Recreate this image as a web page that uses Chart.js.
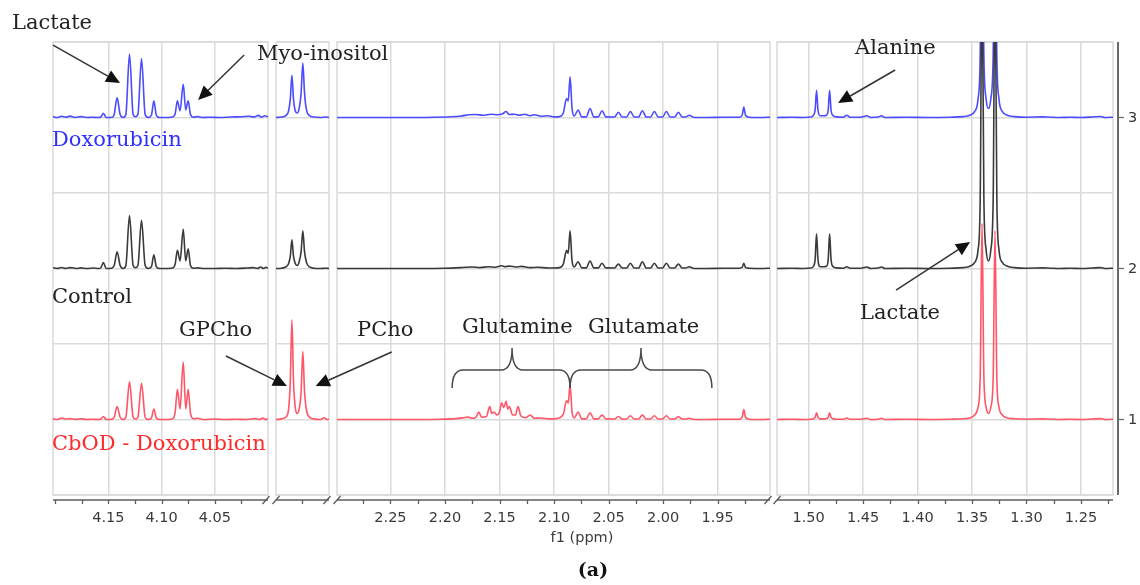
<!DOCTYPE html>
<html>
<head>
<meta charset="utf-8">
<script src="https://cdn.jsdelivr.net/npm/chart.js@4/dist/chart.umd.min.js"></script>
<style>
html, body { margin: 0; padding: 0; background: #fff; }
#fig { position: relative; width: 1140px; height: 585px; overflow: hidden; }
#fig canvas { position: absolute; top: 0; }
.lbl { position: absolute; font-family: "DejaVu Serif", serif; font-size: 21px; line-height: 21px; white-space: nowrap; color: #222; }
</style>
</head>
<body>
<div id="fig">
  <canvas id="p0"></canvas>
  <canvas id="p1"></canvas>
  <canvas id="p2"></canvas>
  <canvas id="p3"></canvas>
  <canvas id="ann" width="1140" height="585"></canvas>
</div>
<script>
// ppm window of each axis segment, left edge first (ppm decreases to the right)
const windows = [[4.202, 4.000], [3.249, 3.200], [2.299, 1.902], [1.529, 1.2206]];

// tick marks (every 0.025 ppm) and the labelled ones
const tickPpm = [
  [4.200, 4.175, 4.150, 4.125, 4.100, 4.075, 4.050, 4.025],
  [3.225],
  [2.275, 2.250, 2.225, 2.200, 2.175, 2.150, 2.125, 2.100, 2.075, 2.050, 2.025, 2.000, 1.975, 1.950, 1.925],
  [1.500, 1.475, 1.450, 1.425, 1.400, 1.375, 1.350, 1.325, 1.300, 1.275, 1.250, 1.225]
];
const tickLabels = [
  ['4.15', '4.10', '4.05'],
  [],
  ['2.25', '2.20', '2.15', '2.10', '2.05', '2.00', '1.95'],
  ['1.50', '1.45', '1.40', '1.35', '1.30', '1.25']
];

// stacking offsets of the three spectra and the y grid
const levelRed = 1, levelBlack = 2, levelBlue = 3;
const yLevels = [1, 2, 3];
const yGrid = [0.5, 1, 1.5, 2, 2.5, 3, 3.5];

// spectra as [ppm, intensity above own baseline]
// --- 4.20 - 4.00 ppm (lactate CH, myo-inositol)
const blueP1 = [[4.202,0.006],[4.198,0],[4.194,0.008],[4.190,0.002],[4.186,0.009],[4.181,0],[4.176,0.006],[4.170,0],[4.165,0.002],[4.160,0],[4.157,0.003],[4.1546,0.028],[4.152,0],[4.146,0.002],[4.1445,0.02],[4.1417,0.13],[4.1389,0.02],[4.136,0],[4.1335,0.02],[4.1301,0.42],[4.1267,0.02],[4.1245,0.005],[4.1222,0.02],[4.1188,0.39],[4.1154,0.02],[4.1125,0],[4.1095,0.015],[4.1072,0.11],[4.1049,0.015],[4.102,0],[4.094,0],[4.089,0.005],[4.0872,0.025],[4.0851,0.11],[4.0826,0.045],[4.0796,0.22],[4.0773,0.05],[4.0750,0.11],[4.0728,0.02],[4.070,0.002],[4.066,0.006],[4.062,0],[4.055,0.002],[4.045,0],[4.035,0.003],[4.025,0.005],[4.018,0.008],[4.013,0.004],[4.009,0.014],[4.006,0.002],[4.003,0.012],[4.000,0.004]];
const blackP1 = [[4.202,0.005],[4.198,0],[4.194,0.007],[4.190,0],[4.186,0.006],[4.180,0],[4.176,0.004],[4.170,0],[4.164,0.003],[4.159,0],[4.157,0.005],[4.1546,0.04],[4.152,0],[4.147,0.002],[4.1445,0.02],[4.1417,0.11],[4.1389,0.02],[4.136,0],[4.1335,0.02],[4.1301,0.35],[4.1267,0.02],[4.1245,0.005],[4.1222,0.02],[4.1188,0.32],[4.1154,0.02],[4.1125,0],[4.1095,0.012],[4.1072,0.09],[4.1049,0.012],[4.102,0],[4.094,0],[4.089,0.005],[4.0872,0.03],[4.0851,0.12],[4.0826,0.05],[4.0796,0.26],[4.0773,0.05],[4.0750,0.13],[4.0728,0.02],[4.070,0.002],[4.066,0.004],[4.060,0],[4.050,0],[4.040,0.002],[4.030,0],[4.020,0.003],[4.014,0.006],[4.010,0],[4.007,0.01],[4.004,0],[4.002,0.008],[4.000,0.002]];
const redP1 = [[4.202,0.006],[4.198,0],[4.194,0.01],[4.190,0.003],[4.186,0.006],[4.180,0],[4.176,0.005],[4.170,0],[4.165,0.002],[4.159,0],[4.157,0.003],[4.1546,0.02],[4.152,0],[4.147,0.002],[4.1445,0.015],[4.1417,0.085],[4.1389,0.015],[4.136,0],[4.1335,0.015],[4.1301,0.25],[4.1267,0.015],[4.1245,0.003],[4.1222,0.015],[4.1188,0.24],[4.1154,0.015],[4.1125,0],[4.1095,0.01],[4.1072,0.07],[4.1049,0.01],[4.102,0],[4.094,0],[4.089,0.008],[4.0872,0.05],[4.0851,0.20],[4.0826,0.07],[4.0796,0.38],[4.0773,0.07],[4.0750,0.20],[4.0728,0.04],[4.070,0.005],[4.066,0.008],[4.060,0],[4.050,0.003],[4.040,0],[4.030,0.002],[4.020,0],[4.012,0.006],[4.008,0],[4.005,0.01],[4.002,0],[4.000,0.005]];

// --- choline segment (GPCho, PCho)
const blueP2 = [[3.249,0],[3.244,0.003],[3.240,0.012],[3.2375,0.04],[3.2358,0.12],[3.2343,0.28],[3.2328,0.12],[3.2310,0.04],[3.2293,0.03],[3.2276,0.06],[3.2258,0.16],[3.2242,0.36],[3.2226,0.16],[3.2208,0.05],[3.218,0.012],[3.214,0.003],[3.208,0],[3.203,0.003],[3.200,0]];
const blackP2 = [[3.249,0],[3.244,0.002],[3.240,0.01],[3.2375,0.03],[3.2358,0.08],[3.2343,0.19],[3.2328,0.08],[3.2310,0.03],[3.2293,0.02],[3.2276,0.045],[3.2258,0.11],[3.2242,0.25],[3.2226,0.11],[3.2208,0.04],[3.218,0.01],[3.214,0.002],[3.208,0],[3.203,0.002],[3.200,0]];
const redP2 = [[3.249,0],[3.244,0.004],[3.240,0.015],[3.2375,0.06],[3.2358,0.25],[3.2343,0.66],[3.2328,0.25],[3.2310,0.07],[3.2293,0.04],[3.2276,0.07],[3.2258,0.18],[3.2242,0.45],[3.2226,0.18],[3.2208,0.06],[3.218,0.015],[3.214,0.004],[3.208,0],[3.2045,0.012],[3.202,0],[3.200,0.002]];

// --- 2.30 - 1.90 ppm (glutamine / glutamate)
const blueP3 = [[2.299,0],[2.250,0],[2.210,0.002],[2.195,0.005],[2.185,0.01],[2.178,0.018],[2.172,0.02],[2.165,0.015],[2.158,0.022],[2.152,0.018],[2.147,0.025],[2.144,0.04],[2.141,0.02],[2.136,0.022],[2.132,0.015],[2.127,0.022],[2.122,0.012],[2.118,0.018],[2.112,0.008],[2.106,0.012],[2.100,0.004],[2.095,0.006],[2.0915,0.03],[2.0885,0.125],[2.087,0.11],[2.0853,0.27],[2.0835,0.06],[2.0815,0.01],[2.078,0.05],[2.0745,0.004],[2.0705,0.004],[2.067,0.06],[2.0635,0.004],[2.0595,0.004],[2.056,0.045],[2.0525,0.004],[2.0445,0.003],[2.041,0.035],[2.0375,0.003],[2.0335,0.003],[2.030,0.04],[2.0265,0.003],[2.0225,0.003],[2.019,0.045],[2.0155,0.003],[2.0115,0.003],[2.008,0.04],[2.0045,0.003],[2.0005,0.003],[1.997,0.04],[1.9935,0.003],[1.9895,0.003],[1.986,0.035],[1.9825,0.003],[1.9795,0.003],[1.976,0.015],[1.9725,0.002],[1.960,0],[1.945,0.002],[1.930,0.002],[1.9275,0.015],[1.926,0.07],[1.9245,0.015],[1.921,0.002],[1.910,0],[1.902,0.002]];
const blackP3 = [[2.299,0],[2.250,0],[2.200,0.002],[2.185,0.006],[2.175,0.01],[2.168,0.006],[2.160,0.012],[2.154,0.008],[2.148,0.018],[2.145,0.012],[2.141,0.016],[2.135,0.01],[2.130,0.014],[2.122,0.006],[2.115,0.008],[2.105,0.003],[2.095,0.006],[2.0915,0.03],[2.0885,0.12],[2.087,0.10],[2.0853,0.25],[2.0835,0.05],[2.0815,0.01],[2.078,0.045],[2.0745,0.004],[2.0705,0.004],[2.067,0.05],[2.0635,0.004],[2.0595,0.004],[2.056,0.035],[2.0525,0.004],[2.0445,0.003],[2.041,0.03],[2.0375,0.003],[2.0335,0.003],[2.030,0.035],[2.0265,0.003],[2.0225,0.003],[2.019,0.045],[2.0155,0.003],[2.0115,0.003],[2.008,0.035],[2.0045,0.003],[2.0005,0.003],[1.997,0.035],[1.9935,0.003],[1.9895,0.003],[1.986,0.03],[1.9825,0.003],[1.9795,0.003],[1.976,0.012],[1.9725,0.002],[1.960,0],[1.945,0.002],[1.930,0.002],[1.9275,0.008],[1.926,0.035],[1.9245,0.008],[1.921,0.002],[1.910,0],[1.902,0.002]];
const redP3 = [[2.299,0],[2.250,0],[2.205,0.002],[2.190,0.006],[2.183,0.012],[2.179,0.016],[2.174,0.008],[2.1715,0.015],[2.169,0.05],[2.1665,0.015],[2.162,0.02],[2.159,0.085],[2.157,0.04],[2.155,0.05],[2.1525,0.03],[2.150,0.05],[2.148,0.11],[2.146,0.08],[2.144,0.12],[2.1425,0.07],[2.141,0.085],[2.138,0.03],[2.1355,0.03],[2.133,0.085],[2.1305,0.025],[2.126,0.012],[2.122,0.03],[2.118,0.008],[2.112,0.01],[2.105,0.004],[2.098,0.006],[2.0915,0.035],[2.0885,0.125],[2.087,0.11],[2.0853,0.23],[2.0835,0.05],[2.0815,0.01],[2.078,0.05],[2.0745,0.004],[2.0705,0.004],[2.067,0.045],[2.0635,0.004],[2.0595,0.004],[2.056,0.03],[2.0525,0.004],[2.0445,0.003],[2.041,0.02],[2.0375,0.003],[2.0335,0.003],[2.030,0.025],[2.0265,0.003],[2.0225,0.003],[2.019,0.03],[2.0155,0.003],[2.0115,0.003],[2.008,0.025],[2.0045,0.003],[2.0005,0.003],[1.997,0.025],[1.9935,0.003],[1.9895,0.003],[1.986,0.018],[1.9825,0.003],[1.9795,0.003],[1.976,0.008],[1.9725,0.002],[1.960,0],[1.945,0.002],[1.930,0.002],[1.9275,0.015],[1.926,0.066],[1.9245,0.015],[1.921,0.002],[1.910,0],[1.902,0.002]];

// --- 1.53 - 1.22 ppm (alanine, lactate CH3)
const blueP4 = [[1.529,0],[1.515,0.002],[1.505,0],[1.498,0.003],[1.4955,0.015],[1.4940,0.05],[1.4927,0.18],[1.4914,0.05],[1.4895,0.012],[1.4867,0.012],[1.4835,0.015],[1.4820,0.05],[1.4807,0.18],[1.4794,0.05],[1.4775,0.012],[1.474,0.004],[1.468,0.002],[1.465,0.015],[1.462,0.002],[1.452,0.002],[1.4465,0.012],[1.443,0],[1.436,0.003],[1.433,0.012],[1.430,0],[1.410,0.002],[1.390,0],[1.370,0.002],[1.358,0.006],[1.352,0.015],[1.3475,0.04],[1.3445,0.12],[1.3425,0.4],[1.3408,1.6],[1.3391,0.4],[1.3370,0.12],[1.3349,0.06],[1.3328,0.12],[1.3306,0.4],[1.3289,1.6],[1.3272,0.4],[1.3252,0.12],[1.3222,0.04],[1.3175,0.015],[1.311,0.006],[1.300,0.002],[1.285,0.004],[1.278,0.002],[1.270,0],[1.260,0.002],[1.250,0],[1.240,0.003],[1.232,0.007],[1.228,0],[1.2206,0.002]];
const blackP4 = [[1.529,0],[1.515,0.002],[1.505,0],[1.498,0.003],[1.4955,0.015],[1.4940,0.06],[1.4927,0.23],[1.4914,0.06],[1.4895,0.012],[1.4867,0.012],[1.4835,0.015],[1.4820,0.06],[1.4807,0.23],[1.4794,0.06],[1.4775,0.012],[1.474,0.004],[1.468,0.002],[1.465,0.012],[1.462,0.002],[1.452,0.002],[1.4465,0.01],[1.443,0],[1.436,0.003],[1.433,0.01],[1.430,0],[1.410,0.002],[1.390,0],[1.370,0.002],[1.358,0.006],[1.352,0.015],[1.3475,0.04],[1.3445,0.12],[1.3425,0.45],[1.3408,2.0],[1.3391,0.45],[1.3370,0.12],[1.3349,0.05],[1.3328,0.12],[1.3306,0.45],[1.3289,2.0],[1.3272,0.45],[1.3252,0.12],[1.3222,0.04],[1.3175,0.015],[1.311,0.006],[1.300,0.002],[1.285,0.004],[1.278,0.002],[1.270,0],[1.260,0.002],[1.250,0],[1.240,0.003],[1.232,0.006],[1.228,0],[1.2206,0.002]];
const redP4 = [[1.529,0],[1.515,0.002],[1.505,0],[1.498,0.002],[1.4955,0.006],[1.4940,0.015],[1.4927,0.045],[1.4914,0.015],[1.4895,0.004],[1.4867,0.004],[1.4835,0.006],[1.4820,0.015],[1.4807,0.045],[1.4794,0.015],[1.4775,0.004],[1.474,0.002],[1.468,0.002],[1.465,0.01],[1.462,0.002],[1.452,0.002],[1.4465,0.008],[1.443,0],[1.436,0.002],[1.433,0.008],[1.430,0],[1.410,0.002],[1.390,0],[1.370,0.002],[1.358,0.005],[1.352,0.01],[1.3475,0.03],[1.3445,0.08],[1.3425,0.28],[1.3408,1.30],[1.3391,0.28],[1.3370,0.08],[1.3349,0.04],[1.3328,0.08],[1.3306,0.27],[1.3289,1.25],[1.3272,0.27],[1.3252,0.08],[1.3222,0.03],[1.3175,0.01],[1.311,0.005],[1.300,0.002],[1.285,0.004],[1.278,0.002],[1.270,0],[1.260,0.002],[1.250,0],[1.240,0.003],[1.232,0.006],[1.228,0],[1.2206,0.002]];

const redData = [redP1, redP2, redP3, redP4];
const blackData = [blackP1, blackP2, blackP3, blackP4];
const blueData = [blueP1, blueP2, blueP3, blueP4];

// chart area of each segment in page pixels
const panels = [
  { left: 48, right: 268, breakLeft: false, breakRight: true },
  { left: 276, right: 329, breakLeft: true, breakRight: true },
  { left: 337, right: 770, breakLeft: true, breakRight: true },
  { left: 777, right: 1113, breakLeft: true, breakRight: false, yAxis: true }
];

const GRID = '#dadada';
const AXIS = '#5c5c5c';

// light frame behind the spectra, dark axis lines with ticks and break marks on top
const framePlugin = {
  id: 'frame',
  beforeDatasetsDraw(chart) {
    const { ctx, chartArea: a } = chart;
    ctx.save();
    ctx.strokeStyle = GRID;
    ctx.lineWidth = 1.5;
    ctx.strokeRect(a.left, a.top, a.right - a.left, a.bottom - a.top);
    ctx.restore();
  },
  afterDraw(chart, args, o) {
    const { ctx, chartArea: a, scales } = chart;
    const ya = a.bottom + 5;
    ctx.save();
    ctx.strokeStyle = AXIS;
    ctx.lineWidth = 1.6;
    ctx.beginPath();
    ctx.moveTo(a.left, ya);
    ctx.lineTo(a.right, ya);
    ctx.stroke();
    ctx.lineWidth = 1.3;
    scales.x.ticks.forEach(t => {
      const x = Math.round(scales.x.getPixelForValue(t.value)) + 0.5;
      ctx.beginPath();
      ctx.moveTo(x, ya);
      ctx.lineTo(x, ya + 4);
      ctx.stroke();
    });
    const slash = x => {
      ctx.beginPath();
      ctx.moveTo(x - 3.5, ya + 4);
      ctx.lineTo(x + 3.5, ya - 4);
      ctx.stroke();
    };
    if (o.breakLeft) slash(a.left);
    if (o.breakRight) slash(a.right - 2);
    if (o.yAxis) {
      const xa = a.right + 5;
      ctx.lineWidth = 2;
      ctx.strokeStyle = '#6a6a6a';
      ctx.beginPath();
      ctx.moveTo(xa, a.top);
      ctx.lineTo(xa, a.bottom);
      ctx.stroke();
      ctx.fillStyle = '#333';
      ctx.font = '14.5px "DejaVu Sans"';
      ctx.textBaseline = 'middle';
      ctx.lineWidth = 1.3;
      yLevels.forEach(v => {
        const y = scales.y.getPixelForValue(v);
        ctx.beginPath();
        ctx.moveTo(xa, y);
        ctx.lineTo(xa + 6, y);
        ctx.stroke();
        ctx.fillText(String(v), xa + 10, y + 1);
      });
    }
    ctx.restore();
  }
};

function trace(points, level, color) {
  return {
    data: points.map(([x, y]) => ({ x: x, y: y + level })),
    borderColor: color,
    borderWidth: 1.6,
    pointRadius: 0,
    fill: false,
    cubicInterpolationMode: 'monotone'
  };
}

const charts = [];
const canvasLeft = [];

panels.forEach((p, i) => {
  const padL = 8, padR = p.yAxis ? 1140 - p.right : 8;
  const cv = document.getElementById('p' + i);
  const left = p.left - padL;
  cv.width = (p.right - p.left) + padL + padR;
  cv.height = 585;
  cv.style.left = left + 'px';
  canvasLeft.push(left);
  const [hi, lo] = windows[i];
  const labels = tickLabels[i];
  const isMajor = v => v != null && labels.includes(v.toFixed(2));

  charts.push(new Chart(cv.getContext('2d'), {
    type: 'line',
    data: {
      datasets: [
        trace(redData[i], levelRed, '#ff5566'),
        trace(blackData[i], levelBlack, '#3a3a3a'),
        trace(blueData[i], levelBlue, '#4b4bff')
      ]
    },
    options: {
      responsive: false,
      animation: false,
      devicePixelRatio: 1,
      layout: { padding: { left: padL, right: padR, top: 42, bottom: 0 } },
      plugins: {
        legend: { display: false },
        tooltip: { enabled: false },
        frame: { breakLeft: p.breakLeft, breakRight: p.breakRight, yAxis: !!p.yAxis }
      },
      scales: {
        x: {
          type: 'linear',
          reverse: true,
          min: lo,
          max: hi,
          afterBuildTicks: s => { s.ticks = tickPpm[i].map(v => ({ value: v })); },
          afterFit: s => { s.height = 90; },
          border: { display: false },
          grid: {
            drawTicks: false,
            lineWidth: 1.5,
            color: c => isMajor(c.tick && c.tick.value) ? GRID : 'rgba(0,0,0,0)'
          },
          ticks: {
            autoSkip: false,
            maxRotation: 0,
            padding: 15,
            color: '#3a3a3a',
            font: { family: 'DejaVu Sans', size: 14.5 },
            callback: v => isMajor(v) ? v.toFixed(2) : ''
          }
        },
        y: {
          min: 0.5,
          max: 3.5,
          afterBuildTicks: s => { s.ticks = yGrid.map(v => ({ value: v })); },
          afterFit: s => { s.width = 0; },
          border: { display: false },
          grid: { drawTicks: false, lineWidth: 1.5, color: GRID },
          ticks: { display: false }
        }
      }
    },
    plugins: [framePlugin]
  }));
});

// page position of a data point in one segment
const px = (i, ppm) => canvasLeft[i] + charts[i].scales.x.getPixelForValue(ppm);
const py = (i, v) => charts[i].scales.y.getPixelForValue(v);

// arrow tips sit on the spectra, tails are offsets in pixels
const arrows = [
  { panel: 0, ppm: 4.139, y: 3.228, dx: -67, dy: -38 },
  { panel: 0, ppm: 4.0656, y: 3.116, dx: 46, dy: -45 },
  { panel: 3, ppm: 1.4729, y: 3.096, dx: 57, dy: -33 },
  { panel: 3, ppm: 1.3518, y: 2.175, dx: -74, dy: 48 },
  { panel: 1, ppm: 3.2389, y: 1.222, dx: -61, dy: -30 },
  { panel: 1, ppm: 3.2123, y: 1.222, dx: 76, dy: -34 }
];
// curly braces over the glutamine and glutamate multiplets
const braces = [
  { from: 2.1934, mid: 2.1385, to: 2.0853 },
  { from: 2.0853, mid: 2.0203, to: 1.9553 }
];

const ann = document.getElementById('ann').getContext('2d');
ann.strokeStyle = '#333';
ann.fillStyle = '#111';
ann.lineWidth = 1.5;

function arrow(x0, y0, x1, y1) {
  const ang = Math.atan2(y1 - y0, x1 - x0), len = 14, half = 6.5;
  const bx = x1 - len * Math.cos(ang), by = y1 - len * Math.sin(ang);
  ann.beginPath();
  ann.moveTo(x0, y0);
  ann.lineTo(bx, by);
  ann.stroke();
  ann.beginPath();
  ann.moveTo(x1, y1);
  ann.lineTo(bx + half * Math.sin(ang), by - half * Math.cos(ang));
  ann.lineTo(bx - half * Math.sin(ang), by + half * Math.cos(ang));
  ann.closePath();
  ann.fill();
}

arrows.forEach(a => {
  const x1 = px(a.panel, a.ppm), y1 = py(a.panel, a.y);
  arrow(x1 + a.dx, y1 + a.dy, x1, y1);
});

ann.strokeStyle = '#4a4a4a';
braces.forEach(b => {
  const x0 = px(2, b.from), xm = px(2, b.mid), x1 = px(2, b.to);
  const yEnd = py(2, 1.209), yFlat = py(2, 1.328), yTip = py(2, 1.474), r = 11;
  ann.beginPath();
  ann.moveTo(x0, yEnd);
  ann.quadraticCurveTo(x0, yFlat, x0 + r, yFlat);
  ann.lineTo(xm - r, yFlat);
  ann.quadraticCurveTo(xm, yFlat, xm, yTip);
  ann.quadraticCurveTo(xm, yFlat, xm + r, yFlat);
  ann.lineTo(x1 - r, yFlat);
  ann.quadraticCurveTo(x1, yFlat, x1, yEnd);
  ann.stroke();
});

// text labels: [text, left, baseline, colour]
const texts = [
  ['Lactate', 12, 30, '#222'],
  ['Myo-inositol', 257, 61, '#222'],
  ['Doxorubicin', 52, 147, '#3030ff'],
  ['Control', 52, 304, '#222'],
  ['GPCho', 179, 337, '#222'],
  ['PCho', 357, 337, '#222'],
  ['Glutamine', 462, 334, '#222'],
  ['Glutamate', 588, 334, '#222'],
  ['CbOD - Doxorubicin', 52, 451, '#ff2a2a'],
  ['Alanine', 855, 55, '#222'],
  ['Lactate', 860, 320, '#222']
];
const fig = document.getElementById('fig');
texts.forEach(([t, x, base, col]) => {
  const d = document.createElement('div');
  d.className = 'lbl';
  d.textContent = t;
  d.style.left = x + 'px';
  d.style.top = (base - 18) + 'px';
  d.style.color = col;
  fig.appendChild(d);
});

const axisTitle = document.createElement('div');
axisTitle.textContent = 'f1 (ppm)';
axisTitle.style.cssText = 'position:absolute;left:482px;width:200px;text-align:center;top:528px;font:14.5px/18px "DejaVu Sans",sans-serif;color:#3a3a3a;';
fig.appendChild(axisTitle);

const panelTag = document.createElement('div');
panelTag.textContent = '(a)';
panelTag.style.cssText = 'position:absolute;left:543px;width:100px;text-align:center;top:559px;font:bold 19px/20px "DejaVu Serif",serif;color:#111;';
fig.appendChild(panelTag);
</script>
</body>
</html>
